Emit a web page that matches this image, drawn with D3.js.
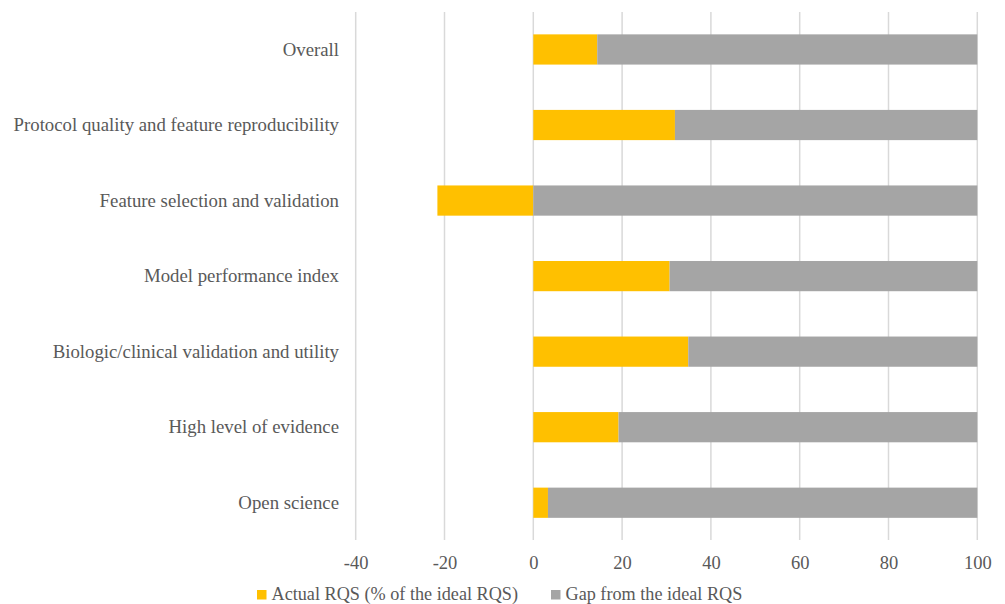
<!DOCTYPE html>
<html>
<head>
<meta charset="utf-8">
<script src="https://cdn.jsdelivr.net/npm/d3@7"></script>
<style>
  html, body { margin: 0; padding: 0; background: #fff; }
  svg { display: block; }
  svg text { font-family: "Liberation Serif", "Times New Roman", serif; }
</style>
</head>
<body>
<svg id="chart" width="1005" height="604"></svg>
<script>
const categories = [
  "Overall",
  "Protocol quality and feature reproducibility",
  "Feature selection and validation",
  "Model performance index",
  "Biologic/clinical validation and utility",
  "High level of evidence",
  "Open science"
];
const actualRQS = [14.4, 31.9, -21.6, 30.7, 34.9, 19.2, 3.3];
const gapRQS = [85.6, 68.1, 100, 69.3, 65.1, 80.8, 96.7];
const tickValues = [-40, -20, 0, 20, 40, 60, 80, 100];
const seriesNames = ["Actual RQS (% of the ideal RQS)", "Gap from the ideal RQS"];
const colors = ["#FFC000", "#A5A5A5"];

const svg = d3.select("#chart");
const font = "Liberation Serif";
const textColor = "#595959";

const x = d3.scaleLinear().domain([-40, 100]).range([355.7, 977.3]);
const y = d3.scaleBand().domain(categories).range([11.7, 540.5]).paddingInner(0.6).paddingOuter(0.3);

// gridlines
svg.append("g").selectAll("line").data(tickValues).join("line")
  .attr("x1", d => x(d)).attr("x2", d => x(d))
  .attr("y1", 12).attr("y2", 540)
  .attr("stroke", "#D9D9D9").attr("stroke-width", 1.5);

// stacked bars
const rows = categories.map((c, i) => ({ c, a: actualRQS[i], g: gapRQS[i] }));
const barG = svg.append("g");
barG.selectAll("rect.actual").data(rows).join("rect")
  .attr("class", "actual")
  .attr("x", d => x(Math.min(0, d.a)))
  .attr("width", d => Math.abs(x(d.a) - x(0)))
  .attr("y", d => y(d.c)).attr("height", y.bandwidth())
  .attr("fill", colors[0]);
barG.selectAll("rect.gap").data(rows).join("rect")
  .attr("class", "gap")
  .attr("x", d => x(Math.max(0, d.a)))
  .attr("width", d => x(Math.max(0, d.a) + d.g) - x(Math.max(0, d.a)))
  .attr("y", d => y(d.c)).attr("height", y.bandwidth())
  .attr("fill", colors[1]);

// x-axis tick labels
const xAxis = d3.axisBottom(x).tickValues(tickValues).tickFormat(d => String(d)).tickSize(0).tickPadding(0);
const gx = svg.append("g").attr("transform", "translate(0,556)").call(xAxis)
  .attr("font-family", font).attr("font-size", 18.5);
gx.select(".domain").remove();
gx.selectAll("text").attr("dy", "0.71em").attr("fill", textColor);

// category labels
const yAxis = d3.axisLeft(y).tickSize(0).tickPadding(0);
const gy = svg.append("g").attr("transform", "translate(339,0)").call(yAxis)
  .attr("font-family", font).attr("font-size", 18.8);
gy.select(".domain").remove();
gy.selectAll("text").attr("fill", textColor);

// legend
const legendItems = [
  { name: seriesNames[0], color: colors[0], x: 257 },
  { name: seriesNames[1], color: colors[1], x: 551 }
];
const lg = svg.append("g").attr("font-family", font).attr("font-size", 18.2);
const li = lg.selectAll("g").data(legendItems).join("g")
  .attr("transform", d => `translate(${d.x},590)`);
li.append("rect").attr("width", 9.5).attr("height", 9.5).attr("fill", d => d.color);
li.append("text").attr("x", 14.5).attr("y", 9.5)
  .attr("fill", textColor)
  .text(d => d.name);
</script>
</body>
</html>
